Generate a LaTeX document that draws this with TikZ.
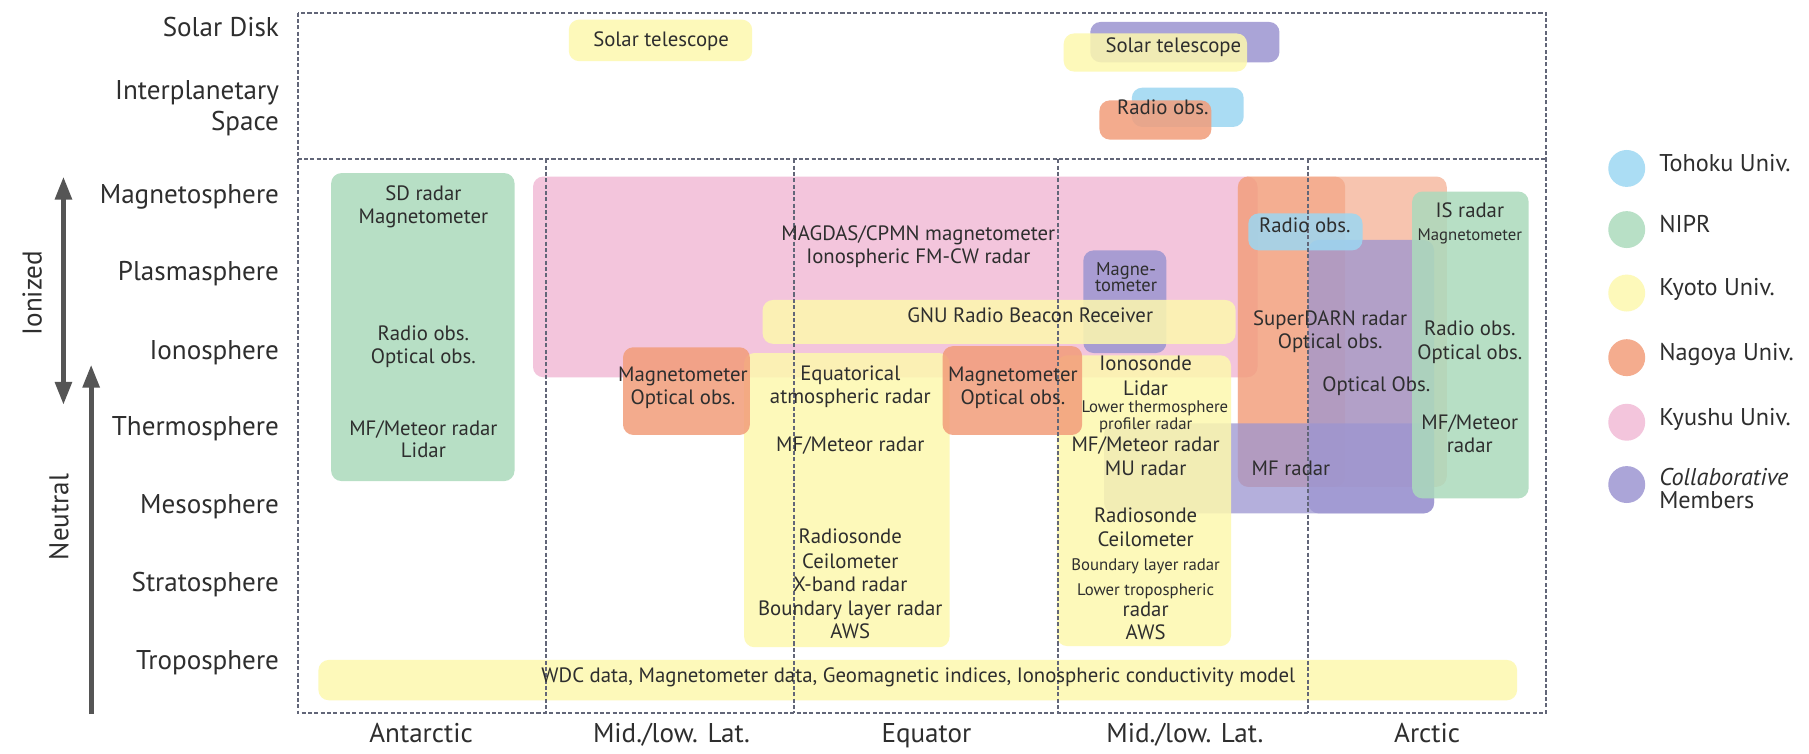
\documentclass[tikz,border=0pt]{standalone}
\usepackage{fontspec}
\setmainfont{PT Sans}
\usetikzlibrary{fit,arrows.meta}
\definecolor{cBlue}{HTML}{9CD7F2}
\definecolor{cGreen}{HTML}{ABDABC}
\definecolor{cYellow}{HTML}{FDF8AE}
\definecolor{cOrange}{HTML}{F29D7A}
\definecolor{cPink}{HTML}{F1BBD6}
\definecolor{cPurple}{HTML}{9C95D1}
\definecolor{lBlue}{HTML}{ABDDF4}
\definecolor{lGreen}{HTML}{B8E0C6}
\definecolor{lYellow}{HTML}{FDF9BA}
\definecolor{lOrange}{HTML}{F4AC8E}
\definecolor{lPink}{HTML}{F3C5DC}
\definecolor{lPurple}{HTML}{ABA5D8}
\definecolor{txt}{HTML}{2E2E2E}
\definecolor{framec}{HTML}{626678}
\definecolor{arrc}{HTML}{555555}
\newcommand{\fsz}[1]{\fontsize{#1}{#1}\selectfont}
\tikzset{
  bx/.style={rounded corners=9pt, inner sep=0pt, draw=none, fill opacity=0.85},
  tx/.style={text=txt, font=\fsz{18}, inner sep=0pt, anchor=mid},
  sm/.style={text=txt, font=\fsz{14.5}, inner sep=0pt, anchor=mid},
  rowlab/.style={text=txt, font=\fsz{23.5}, inner sep=0pt, anchor=mid east},
  collab/.style={text=txt, font=\fsz{23.5}, inner sep=0pt, anchor=mid},
  leglab/.style={text=txt, font=\fsz{21}, inner sep=0pt, anchor=mid west},
  legdot/.style={circle, minimum size=32pt, inner sep=0pt, draw=none},
  frm/.style={draw=framec, line width=1.7pt, dash pattern=on 3.5pt off 2pt},
  bigarr/.style={draw=arrc, line width=4.5pt},
}
\begin{document}
\begin{tikzpicture}[x=1pt,y=-1pt]
\useasboundingbox (0,0) rectangle (1568,653);
\fill[white] (0,0) rectangle (1568,653);

% ---------- boxes ----------
% top region
\node[bx, fill=cYellow, fit={(493,17)(652,53)}] (kySolA) {};
\node[bx, fill=cPurple, fit={(945,19)(1109,54)}] (coSol) {};
\node[bx, fill=cYellow, fit={(922,29)(1081,62)}] (kySolB) {};
\node[bx, fill=cBlue, fit={(981,76)(1078,110)}] (thRad) {};
\node[bx, fill=cOrange, fit={(953,87)(1050,121)}] (ngRad) {};

% main region
\node[bx, fill=cPink, fit={(462,153)(1090,327)}] (kyuMag) {};
\node[bx, fill=cPurple, fit={(939,217)(1011,306)}] (coMag) {};
\node[bx, fill=cYellow, fit={(661,260)(1071,298)}] (kyGNU) {};
\node[bx, fill=cOrange, fill opacity=0.6, fit={(1073,153)(1254,422)}] (ngSDb) {};
\node[bx, fill=cOrange, fill opacity=0.55, fit={(1073,153)(1166,422)}] (ngSDa) {};
\node[bx, fill=cPurple, fill opacity=0.75, fit={(957,367)(1243,445)}] (coMF) {};
\node[bx, fill=cPurple, fill opacity=0.75, fit={(1134,208)(1243,445)}] (coOpt) {};
\node[bx, fill=cYellow, fit={(645,306)(823,561)}] (kyEq) {};
\node[bx, fill=cYellow, fit={(916,308)(1067,560)}] (kyML) {};
\node[bx, fill=cOrange, fit={(540,301)(650,377)}] (ngML) {};
\node[bx, fill=cOrange, fit={(817,300)(938,377)}] (ngEq) {};
\node[bx, fill=cGreen, fit={(287,150)(446,417)}] (niAnt) {};
\node[bx, fill=cGreen, fit={(1224,166)(1325,432)}] (niArc) {};
\node[bx, fill=cBlue, fit={(1082,185)(1181,217)}] (thArc) {};
\node[bx, fill=cYellow, fit={(276,572)(1315,607)}] (kyWDC) {};

% ---------- frame ----------
\draw[frm] (258,11) rectangle (1340,618);
\draw[frm] (258,138) -- (1340,138);
\draw[frm] (473,138) -- (473,618);
\draw[frm] (688,138) -- (688,618);
\draw[frm] (917,138) -- (917,618);
\draw[frm] (1134,138) -- (1134,618);

% ---------- texts in boxes ----------
\node[tx] (tSolA) at (573,38) {Solar telescope};
\node[tx] (tSolB) at (1017,43) {Solar telescope};
\node[tx] (tRadTop) at (1008,97) {Radio obs.};

\node[tx] (a1) at (367,171) {SD radar};
\node[tx] (a2) at (367,191) {Magnetometer};
\node[tx] (a3) at (367,293) {Radio obs.};
\node[tx] (a4) at (367,313) {Optical obs.};
\node[tx] (a5) at (367,375) {MF/Meteor radar};
\node[tx] (a6) at (367,394) {Lidar};

\node[tx] (m1) at (796,206) {MAGDAS/CPMN magnetometer};
\node[tx] (m2) at (796,226) {Ionospheric FM-CW radar};
\node[tx] (gnu) at (893,277) {GNU Radio Beacon Receiver};
\node[tx, font=\fsz{16}] (mg1) at (976,236) {Magne-};
\node[tx, font=\fsz{16}] (mg2) at (976,250) {tometer};

\node[tx] (n1) at (592,328) {Magnetometer};
\node[tx] (n2) at (592,348) {Optical obs.};
\node[tx] (n3) at (878,328) {Magnetometer};
\node[tx] (n4) at (878,348) {Optical obs.};

\node[tx] (e1) at (737,327) {Equatorical};
\node[tx] (e2) at (737,347) {atmospheric radar};
\node[tx] (e3) at (737,389) {MF/Meteor radar};
\node[tx] (e4) at (737,469) {Radiosonde};
\node[tx] (e5) at (737,490) {Ceilometer};
\node[tx] (e6) at (737,510) {X-band radar};
\node[tx] (e7) at (737,531) {Boundary layer radar};
\node[tx] (e8) at (737,551) {AWS};

\node[tx] (k1) at (993,319) {Ionosonde};
\node[tx] (k2) at (993,340) {Lidar};
\node[sm] (k3) at (1001,355) {Lower thermosphere};
\node[sm] (k4) at (993,370) {profiler radar};
\node[tx] (k5) at (993,389) {MF/Meteor radar};
\node[tx] (k6) at (993,410) {MU radar};
\node[tx] (k7) at (993,450) {Radiosonde};
\node[tx] (k8) at (993,471) {Ceilometer};
\node[sm] (k9) at (993,492) {Boundary layer radar};
\node[sm] (k10) at (993,514) {Lower tropospheric};
\node[tx] (k11) at (993,532) {radar};
\node[tx] (k12) at (993,552) {AWS};

\node[tx] (s0) at (1131,199) {Radio obs.};
\node[tx] (s1) at (1153,280) {SuperDARN radar};
\node[tx] (s2) at (1153,300) {Optical obs.};
\node[tx] (s3) at (1193,337) {Optical Obs.};
\node[tx] (s4) at (1119,410) {MF radar};

\node[tx] (g1) at (1274,186) {IS radar};
\node[sm] (g2) at (1274,206) {Magnetometer};
\node[tx] (g3) at (1274,288) {Radio obs.};
\node[tx] (g4) at (1274,309) {Optical obs.};
\node[tx] (g5) at (1274,370) {MF/Meteor};
\node[tx] (g6) at (1274,390) {radar};

\node[tx] (wdc) at (796,589) {WDC data, Magnetometer data, Geomagnetic indices, Ionospheric conductivity model};

% ---------- row labels ----------
\node[rowlab] (rSol) at (242,29) {Solar Disk};
\node[rowlab] (rInt1) at (242,84) {Interplanetary};
\node[rowlab] (rInt2) at (242,111) {Space};
\node[rowlab] (rMag) at (242,174) {Magnetosphere};
\node[rowlab] (rPla) at (242,241) {Plasmasphere};
\node[rowlab] (rIon) at (242,309) {Ionosphere};
\node[rowlab] (rThe) at (242,375) {Thermosphere};
\node[rowlab] (rMes) at (242,443) {Mesosphere};
\node[rowlab] (rStr) at (242,510) {Stratosphere};
\node[rowlab] (rTro) at (242,578) {Troposphere};

% ---------- column labels ----------
\node[collab] (cAnt) at (365,641) {Antarctic};
\node[collab] (cML1) at (582,641) {Mid./low. Lat.};
\node[collab] (cEq) at (803,641) {Equator};
\node[collab] (cML2) at (1027,641) {Mid./low. Lat.};
\node[collab] (cArc) at (1237,641) {Arctic};

% ---------- arrows ----------
\coordinate (ionT) at (55,153);
\coordinate (ionB) at (55,351);
\coordinate (neuT) at (79,316);
\coordinate (neuB) at (79,619);
\draw[bigarr, {Triangle[length=20pt,width=14pt]}-{Triangle[length=20pt,width=14pt]}] (ionT) -- (ionB);
\draw[bigarr, -{Triangle[length=20pt,width=14pt]}] (neuB) -- (neuT);
\node[text=txt, font=\fsz{23.5}, rotate=90, inner sep=0pt] (ionized) at (28,254) {Ionized};
\node[text=txt, font=\fsz{23.5}, rotate=90, inner sep=0pt] (neutral) at (51,448) {Neutral};

% ---------- legend ----------
\node[legdot, fill=lBlue] (d1) at (1410,146) {};
\node[legdot, fill=lGreen] (d2) at (1410,199) {};
\node[legdot, fill=lYellow] (d3) at (1410,254) {};
\node[legdot, fill=lOrange] (d4) at (1410,310) {};
\node[legdot, fill=lPink] (d5) at (1410,366) {};
\node[legdot, fill=lPurple] (d6) at (1410,420) {};
\node[leglab] (l1) at (1438,146) {Tohoku Univ.};
\node[leglab] (l2) at (1438,199) {NIPR};
\node[leglab] (l3) at (1438,254) {Kyoto Univ.};
\node[leglab] (l4) at (1438,310) {Nagoya Univ.};
\node[leglab] (l5) at (1438,366) {Kyushu Univ.};
\node[leglab, font=\fsz{21}\itshape] (l6) at (1438,418) {Collaborative};
\node[leglab] (l7) at (1438,438) {Members};
\end{tikzpicture}
\end{document}
